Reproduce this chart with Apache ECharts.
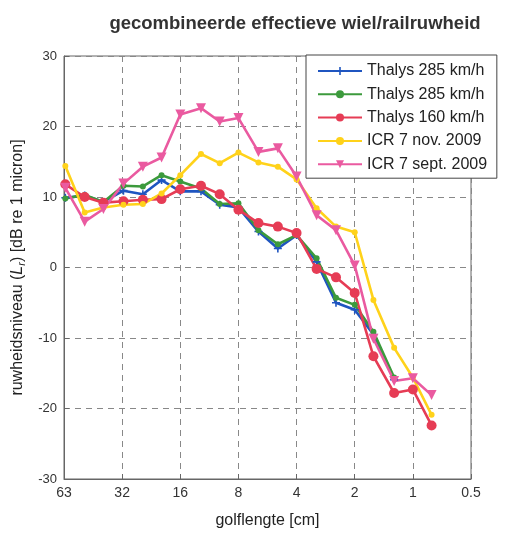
<!DOCTYPE html>
<html><head><meta charset="utf-8">
<script src="https://cdn.jsdelivr.net/npm/echarts@6/dist/echarts.min.js"></script>
<style>html,body{margin:0;padding:0;background:#fff}#c{width:516px;height:541px}</style>
</head><body><div id="c"></div>
<script>
const wavelengths = [63, 50, 40, 31.5, 25, 20, 16, 12.5, 10, 8, 6.3, 5, 4, 3.15, 2.5, 2, 1.6, 1.25, 1, 0.8];
const thalys285a = [9.9, 10.2, 9.3, 10.9, 10.4, 12.4, 10.8, 10.8, 8.9, 8.5, 5.1, 2.7, 4.6, 0.8, -5.0, -6.0, -9.5, -15.9];
const thalys285b = [9.8, 10.3, 9.3, 11.6, 11.5, 13.1, 12.2, 11.2, 9.0, 9.1, 5.3, 3.3, 4.6, 1.3, -4.3, -5.3, -9.1, -15.6];
const thalys160 = [11.8, 10.0, 9.2, 9.4, 9.6, 9.7, 11.1, 11.6, 10.4, 8.2, 6.3, 5.8, 4.9, -0.2, -1.4, -3.6, -12.6, -17.8, -17.3, -22.4];
const icrNov = [14.4, 7.8, 8.5, 8.9, 9.0, 10.5, 13.1, 16.1, 14.8, 16.3, 14.9, 14.3, 12.5, 8.4, 5.8, 5.0, -4.6, -11.4, -15.6, -20.9];
const icrSept = [11.3, 6.5, 8.3, 11.9, 14.3, 15.6, 21.7, 22.6, 20.7, 21.2, 16.4, 16.9, 12.9, 7.4, 5.3, 0.3, -10.1, -16.1, -15.7, -18.1];
const seriesNames = ['Thalys 285 km/h', 'Thalys 285 km/h ', 'Thalys 160 km/h', 'ICR 7 nov. 2009', 'ICR 7 sept. 2009'];
const xTicks = [64, 32, 16, 8, 4, 2, 1, 0.5];
const xTickLabels = ['63', '32', '16', '8', '4', '2', '1', '0.5'];

const FONT = '"Liberation Sans", Arial, Helvetica, sans-serif';
const pair = arr => arr.map((v, i) => [wavelengths[i], v]);
const plus = 'path://M4,0h2v4h4v2h-4v4h-2v-4h-4v-2h4z';

function mk(name, data, color, symbol, size, rot) {
  return {
    name, type: 'line', data: pair(data),
    symbol, symbolSize: size, symbolRotate: rot || 0,
    lineStyle: {color, width: 2.6},
    itemStyle: {color, borderColor: color, borderWidth: 0},
    emphasis: {disabled: true}, animation: false, z: 3
  };
}

const chart = echarts.init(document.getElementById('c'), null, {renderer: 'canvas'});
chart.setOption({
  animation: false,
  backgroundColor: '#fff',
  title: {
    text: 'gecombineerde effectieve wiel/railruwheid',
    left: 290, top: 9, textAlign: 'center',
    textStyle: {fontFamily: FONT, fontSize: 18.5, fontWeight: 'bold', color: '#333'}
  },
  grid: {left: 64, right: 45, top: 56, bottom: 62, show: true, borderColor: '#666', borderWidth: 1},
  legend: {
    orient: 'vertical', left: 306, top: 55,
    backgroundColor: '#fff', borderColor: '#444', borderWidth: 1,
    padding: [7, 8, 5, 11], itemWidth: 44, itemHeight: 10, itemGap: 5.3,
    textStyle: {fontFamily: FONT, fontSize: 16, color: '#222', lineHeight: 18},
    data: seriesNames
  },
  xAxis: {
    type: 'log', logBase: 2, min: 0.5, max: 64, inverse: true,
    name: 'golflengte [cm]', nameLocation: 'middle', nameGap: 34,
    nameTextStyle: {fontFamily: FONT, fontSize: 16, color: '#222'},
    axisLine: {show: true, onZero: false, lineStyle: {color: '#666'}},
    axisTick: {show: true, inside: true, length: 5, lineStyle: {color: '#666'}},
    axisLabel: {fontFamily: FONT, fontSize: 14, color: '#333', margin: 7,
      formatter: v => { const i = xTicks.indexOf(v); return i >= 0 ? xTickLabels[i] : ''; }},
    splitLine: {show: true, lineStyle: {color: '#888', type: [6, 5], width: 1}}
  },
  yAxis: {
    type: 'value', min: -30, max: 30, interval: 10,
    name: '{n|ruwheidsniveau (}{i|L}{s|r}{n|) [dB re 1 micron]}',
    nameLocation: 'middle', nameGap: 30, nameRotate: 90,
    nameTextStyle: {fontFamily: FONT, fontSize: 16, color: '#222',
      rich: {n: {fontFamily: FONT, fontSize: 16, color: '#222'},
             i: {fontFamily: FONT, fontSize: 16, fontStyle: 'italic', color: '#222'},
             s: {fontFamily: FONT, fontSize: 11, fontStyle: 'italic', color: '#222', verticalAlign: 'bottom', padding: [8, 0, 0, 0]}}},
    axisLine: {show: true, onZero: false, lineStyle: {color: '#666'}},
    axisTick: {show: true, inside: true, length: 5, lineStyle: {color: '#666'}},
    axisLabel: {fontFamily: FONT, fontSize: 13, color: '#333', margin: 7},
    splitLine: {show: true, lineStyle: {color: '#888', type: [6, 5], width: 1}}
  },
  series: [
    mk(seriesNames[0], thalys285a, '#1f55c0', plus, 8),
    mk(seriesNames[1], thalys285b, '#3c9a3c', 'circle', 6),
    mk(seriesNames[2], thalys160, '#e63c55', 'circle', 10),
    mk(seriesNames[3], icrNov, '#ffd21a', 'circle', 6),
    mk(seriesNames[4], icrSept, '#ea5aa0', 'triangle', 10, 180)
  ]
});
</script></body></html>
